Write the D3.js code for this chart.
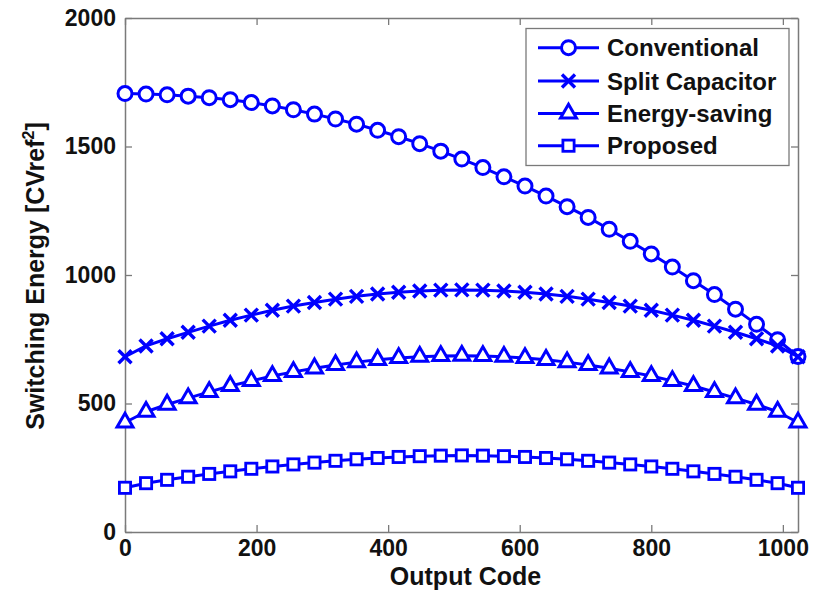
<!DOCTYPE html>
<html>
<head>
<meta charset="utf-8">
<script src="https://cdn.jsdelivr.net/npm/d3@7"></script>
<style>
  html, body { margin: 0; padding: 0; background: #fff; }
  svg { display: block; }
  text { font-family: "Liberation Sans", Arial, Helvetica, sans-serif; font-weight: bold; fill: #111; }
</style>
</head>
<body>
<svg id="chart" width="820" height="591"></svg>
<script>
// ---- data ----
const outputCodes = [0,32,64,96,128,160,192,224,256,288,320,352,384,416,448,480,512,544,576,608,640,672,704,736,768,800,832,864,896,928,960,992,1023];
const conventional = [1706,1704,1701,1696,1690,1682,1671,1658,1643,1626,1607,1587,1563,1538,1511,1482,1451,1418,1382,1346,1307,1266,1224,1178,1131,1082,1031,978,924,867,808,748,683];
const splitCapacitor = [682,724,752,777,801,824,844,863,879,893,906,917,926,933,938,941,942,941,938,933,926,917,906,893,879,863,844,824,801,777,752,724,682];
const energySaving = [426,468,496,521,545,568,588,607,623,637,650,661,670,677,682,685,686,685,682,677,670,661,650,637,623,607,588,568,545,521,496,468,426];
const proposed = [172,190,203,215,226,236,246,255,263,270,277,283,288,292,295,297,298,297,295,292,288,283,277,270,263,255,246,236,226,215,203,190,172];
const seriesNames = ["Conventional", "Split Capacitor", "Energy-saving", "Proposed"];
const seriesMarkers = ["circle", "cross", "triangle", "square"];
const xTicks = [0,200,400,600,800,1000];
const yTicks = [0,500,1000,1500,2000];
const xDomain = [0, 1023];
const yDomain = [0, 2000];

const allSeries = [conventional, splitCapacitor, energySaving, proposed];

// ---- layout ----
const L = 125, R = 798, T = 18, B = 532;
const blue = "#0000ff";
const axisGray = "#7a7a7a";

const svg = d3.select("#chart");
svg.append("rect").attr("width", 820).attr("height", 591).attr("fill", "#fff");

const x = d3.scaleLinear().domain(xDomain).range([L, R]);
const y = d3.scaleLinear().domain(yDomain).range([B, T]);

// axes
const gx = svg.append("g").attr("transform", `translate(0,${B})`)
  .call(d3.axisBottom(x).tickValues(xTicks).tickSizeInner(-7).tickSizeOuter(0).tickPadding(8).tickFormat(d3.format("d")));
const gy = svg.append("g").attr("transform", `translate(${L},0)`)
  .call(d3.axisLeft(y).tickValues(yTicks).tickSizeInner(-7).tickSizeOuter(0).tickPadding(9).tickFormat(d3.format("d")));
const gxt = svg.append("g").attr("transform", `translate(0,${T})`)
  .call(d3.axisTop(x).tickValues(xTicks).tickSizeInner(-7).tickSizeOuter(0).tickFormat(""));
const gyr = svg.append("g").attr("transform", `translate(${R},0)`)
  .call(d3.axisRight(y).tickValues(yTicks).tickSizeInner(-7).tickSizeOuter(0).tickFormat(""));

[gx, gy, gxt, gyr].forEach(g => {
  g.selectAll("path.domain").attr("stroke", axisGray).attr("stroke-width", 1.5);
  g.selectAll(".tick line").attr("stroke", axisGray).attr("stroke-width", 1.3);
  g.selectAll(".tick text").attr("font-size", 23).attr("font-family", "Liberation Sans, Arial, sans-serif")
    .attr("font-weight", "bold").attr("fill", "#111");
});

// axis labels
svg.append("text").attr("x", (L + R) / 2 + 4).attr("y", 585)
  .attr("text-anchor", "middle").attr("font-size", 25).text("Output Code");

const yl = svg.append("text").attr("transform", "translate(44,276) rotate(-90)")
  .attr("text-anchor", "middle").attr("font-size", 25);
yl.append("tspan").text("Switching Energy [CVref");
yl.append("tspan").attr("font-size", 16).attr("dy", -10).text("2");
yl.append("tspan").attr("dy", 10).text("]");

// marker drawing
function drawMarker(g, type, cx, cy) {
  if (type === "circle") {
    g.append("circle").attr("cx", cx).attr("cy", cy).attr("r", 7)
      .attr("fill", "#fff").attr("stroke", blue).attr("stroke-width", 3);
  } else if (type === "cross") {
    const s = 6.5;
    g.append("path").attr("d", `M${cx - s},${cy - s}L${cx + s},${cy + s}M${cx - s},${cy + s}L${cx + s},${cy - s}`)
      .attr("stroke", blue).attr("stroke-width", 3.4).attr("fill", "none");
  } else if (type === "triangle") {
    const a = 4.6, r3 = Math.sqrt(3);
    g.append("path").attr("d", `M${cx},${cy - 2 * a}L${cx - r3 * a},${cy + a}L${cx + r3 * a},${cy + a}Z`)
      .attr("fill", "#fff").attr("stroke", blue).attr("stroke-width", 3).attr("stroke-linejoin", "miter");
  } else if (type === "square") {
    const h = 5.6;
    g.append("rect").attr("x", cx - h).attr("y", cy - h).attr("width", 2 * h).attr("height", 2 * h)
      .attr("fill", "#fff").attr("stroke", blue).attr("stroke-width", 2.8);
  }
}

const line = d3.line().x((d, i) => x(outputCodes[i])).y(d => y(d));

allSeries.forEach((vals, si) => {
  const g = svg.append("g");
  g.append("path").datum(vals).attr("d", line)
    .attr("fill", "none").attr("stroke", blue).attr("stroke-width", 3).attr("stroke-linejoin", "round");
  vals.forEach((v, i) => drawMarker(g, seriesMarkers[si], x(outputCodes[i]), y(v)));
});

// legend
const lg = svg.append("g");
lg.append("rect").attr("x", 526).attr("y", 28.5).attr("width", 263).attr("height", 137)
  .attr("fill", "#fff").attr("stroke", axisGray).attr("stroke-width", 1.3);
const rowY = [47.7, 81, 113.5, 145.7];
seriesNames.forEach((name, i) => {
  const ry = rowY[i];
  lg.append("line").attr("x1", 538).attr("x2", 599).attr("y1", ry).attr("y2", ry)
    .attr("stroke", blue).attr("stroke-width", 3);
  drawMarker(lg, seriesMarkers[i], 568.5, ry);
  lg.append("text").attr("x", 607).attr("y", ry).attr("dy", "0.36em")
    .attr("font-size", 24).text(name);
});
</script>
</body>
</html>
